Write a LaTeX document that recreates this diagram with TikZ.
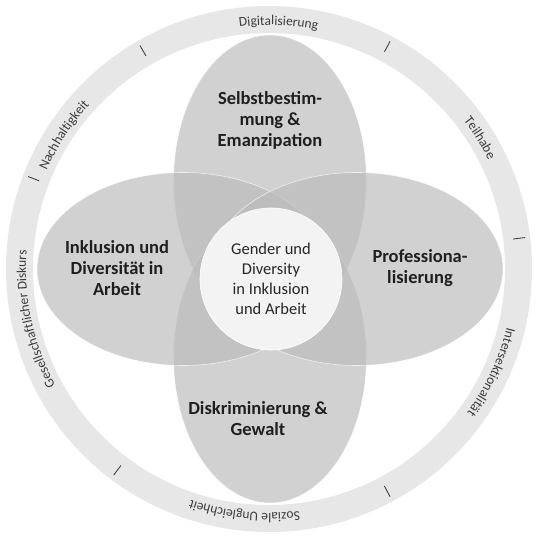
\documentclass[tikz,border=0pt]{standalone}
\usepackage{fontspec}
\setmainfont{Carlito}
\usetikzlibrary{decorations.text}
\definecolor{ringgray}{RGB}{231,231,231}
\definecolor{petalgray}{RGB}{187,187,187}
\definecolor{coregray}{RGB}{243,243,243}
\definecolor{labelgray}{RGB}{60,60,60}
\newcommand{\ringfont}{\fontsize{13.5}{16}\selectfont}
\begin{document}
\begin{tikzpicture}[x=1pt,y=1pt,
    petal/.style ={fill=petalgray, fill opacity=0.67, draw=white, draw opacity=0.7, line width=0.6pt},
    topic/.style ={align=center, text=black!88, font=\bfseries\fontsize{18.5}{21}\selectfont},
    core/.style ={circle, fill=coregray, draw=white, line width=0.6pt, inner sep=0pt,
      minimum size=142pt, align=center, text=black!85, font=\fontsize{16.5}{20}\selectfont},
    ringtick/.style ={draw=black!80, line width=0.8pt}]
   \useasboundingbox (-270,-269) rectangle (271,269);
   % outer ring
   \draw[ringgray, line width=27pt] (-1,0) circle[radius=249.5];
   \foreach \a in {120,62,7,-62,-127,159}
     \draw[ringtick, shift={(-1,0)}] (\a:246) -- (\a:258);
   \path[decorate, decoration={text along path, text align=center, text color=labelgray,
     text={|\ringfont|Digitalisierung}}] (133:244) arc[start angle=133, end angle=43, radius=244];
   \path[decorate, decoration={text along path, text align=center, text color=labelgray,
     text={|\ringfont|Teilhabe}}] (77:244) arc[start angle=77, end angle=-13, radius=244];
   \path[decorate, decoration={text along path, text align=center, text color=labelgray,
     text={|\ringfont|Intersektionalität}}] (20:244) arc[start angle=20, end angle=-70, radius=244];
   \path[decorate, decoration={text along path, text align=center, text color=labelgray,
     text={|\ringfont|Soziale Ungleichheit}}] (-51:244) arc[start angle=-51, end angle=-141, radius=244];
   \path[decorate, decoration={text along path, text align=center, text color=labelgray,
     text={|\ringfont|Gesellschaftlicher Diskurs}}] (242:244) arc[start angle=242, end angle=142, radius=244];
   \path[decorate, decoration={text along path, text align=center, text color=labelgray,
     text={|\ringfont|Nachhaltigkeit}}] (192:244) arc[start angle=192, end angle=102, radius=244];
   % four petals
   \draw[petal] (0,88) ellipse[x radius=96.5, y radius=146];
   \draw[petal] (0,-88) ellipse[x radius=96.5, y radius=146];
   \draw[petal] (-87,0) ellipse[x radius=146, y radius=96.5];
   \draw[petal] (87,0) ellipse[x radius=146, y radius=96.5];
   % labels
   \node[core] (gd) at (1,-10) {Gender und\\Diversity\\in Inklusion\\und Arbeit};
   \node[topic] (selbst) at (0,149) {Selbstbestim-\\mung \&\\Emanzipation};
   \node[topic] (inkl) at (-153,1) {Inklusion und\\Diversität in\\Arbeit};
   \node[topic] (prof) at (150,1) {Professiona-\\lisierung};
   \node[topic] (diskr) at (-12,-150) {Diskriminierung \&\\Gewalt};
 \end{tikzpicture}
\end{document}
